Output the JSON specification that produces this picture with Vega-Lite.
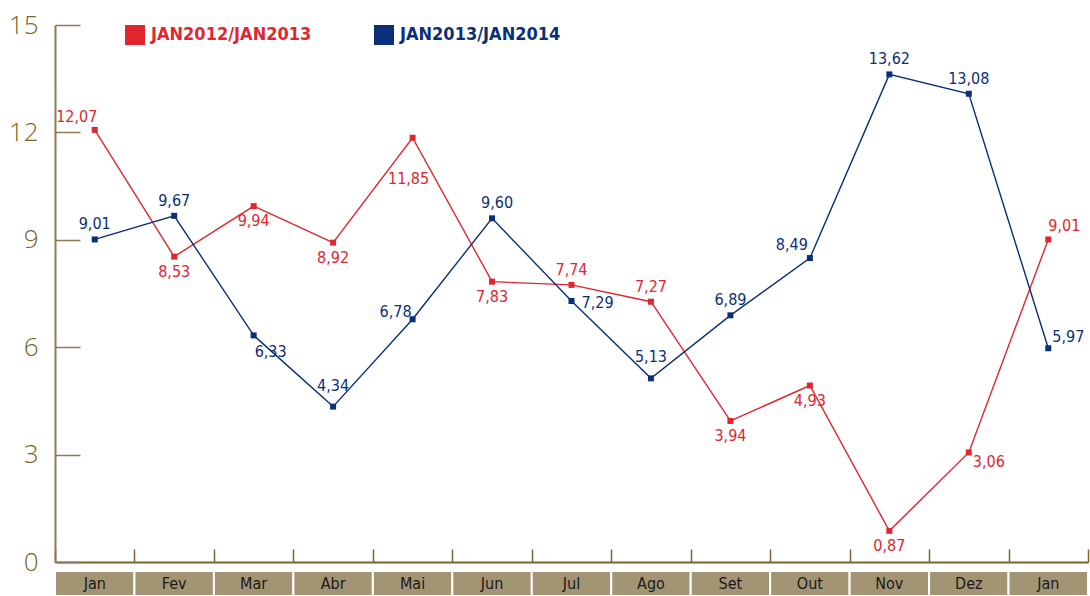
{
  "$schema": "https://vega.github.io/schema/vega-lite/v6.json",
  "padding": {"left": 8, "top": 12, "right": 0, "bottom": 0},
  "bounds": "flush",
  "spacing": 9,
  "config": {
    "view": {"stroke": null},
    "font": "DejaVu Sans Condensed",
    "locale": {"number": {"decimal": ",", "thousands": ".", "grouping": [3], "currency": ["", ""]}}
  },
  "datasets": {
    "d": [
      {"m": "Jan", "s": "JAN2012/JAN2013", "v": 12.07},
      {"m": "Fev", "s": "JAN2012/JAN2013", "v": 8.53},
      {"m": "Mar", "s": "JAN2012/JAN2013", "v": 9.94},
      {"m": "Abr", "s": "JAN2012/JAN2013", "v": 8.92},
      {"m": "Mai", "s": "JAN2012/JAN2013", "v": 11.85},
      {"m": "Jun", "s": "JAN2012/JAN2013", "v": 7.83},
      {"m": "Jul", "s": "JAN2012/JAN2013", "v": 7.74},
      {"m": "Ago", "s": "JAN2012/JAN2013", "v": 7.27},
      {"m": "Set", "s": "JAN2012/JAN2013", "v": 3.94},
      {"m": "Out", "s": "JAN2012/JAN2013", "v": 4.93},
      {"m": "Nov", "s": "JAN2012/JAN2013", "v": 0.87},
      {"m": "Dez", "s": "JAN2012/JAN2013", "v": 3.06},
      {"m": "Jan2", "s": "JAN2012/JAN2013", "v": 9.01},
      {"m": "Jan", "s": "JAN2013/JAN2014", "v": 9.01},
      {"m": "Fev", "s": "JAN2013/JAN2014", "v": 9.67},
      {"m": "Mar", "s": "JAN2013/JAN2014", "v": 6.33},
      {"m": "Abr", "s": "JAN2013/JAN2014", "v": 4.34},
      {"m": "Mai", "s": "JAN2013/JAN2014", "v": 6.78},
      {"m": "Jun", "s": "JAN2013/JAN2014", "v": 9.60},
      {"m": "Jul", "s": "JAN2013/JAN2014", "v": 7.29},
      {"m": "Ago", "s": "JAN2013/JAN2014", "v": 5.13},
      {"m": "Set", "s": "JAN2013/JAN2014", "v": 6.89},
      {"m": "Out", "s": "JAN2013/JAN2014", "v": 8.49},
      {"m": "Nov", "s": "JAN2013/JAN2014", "v": 13.62},
      {"m": "Dez", "s": "JAN2013/JAN2014", "v": 13.08},
      {"m": "Jan2", "s": "JAN2013/JAN2014", "v": 5.97}
    ]
  },
  "vconcat": [
    {
      "width": 1033,
      "height": 537,
      "data": {"name": "d"},
      "encoding": {
        "x": {
          "field": "m", "type": "ordinal", "sort": null, "bandPosition": 0.5,
          "scale": {"type": "band", "paddingInner": 0, "paddingOuter": 0},
          "axis": {
            "title": null, "labels": false, "domainColor": "#7a6530", "domainWidth": 2,
            "ticks": true, "tickBand": "extent", "tickSize": -13, "tickColor": "#7a6530", "tickWidth": 1.5
          }
        },
        "y": {
          "field": "v", "type": "quantitative",
          "scale": {"domain": [0, 15], "nice": false, "zero": true},
          "axis": {
            "title": null, "values": [0, 3, 6, 9, 12, 15], "grid": false,
            "domainColor": "#8b7a55", "domainWidth": 2,
            "tickSize": -25, "tickColor": "#8b7a55", "tickWidth": 1.5,
            "labelFont": "Open Sans", "labelFontWeight": 300, "labelFontSize": 26,
            "labelColor": "#7b6426", "labelPadding": 42
          }
        },
        "color": {
          "field": "s", "type": "nominal",
          "scale": {"domain": ["JAN2012/JAN2013", "JAN2013/JAN2014"], "range": ["#e0262f", "#0a2f78"]},
          "legend": {
            "title": null, "orient": "none", "legendX": 70, "legendY": 0,
            "direction": "horizontal", "symbolType": "square", "symbolSize": 400,
            "symbolStrokeWidth": 0, "symbolOpacity": 1, "labelFontSize": 18, "labelFontWeight": "bold",
            "labelFont": "DejaVu Sans Condensed", "labelOffset": 6, "columnPadding": 62, "labelLimit": 300,
            "encode": {"labels": {"update": {"fill": {"signal": "datum.label == 'JAN2012/JAN2013' ? '#e0262f' : '#0a2f78'"}}}}
          }
        },
        "text": {"field": "v", "type": "quantitative", "format": ".2f"}
      },
      "layer": [
        {"mark": {"type": "line", "strokeWidth": 1.4}},
        {"mark": {"type": "point", "shape": "square", "filled": true, "size": 36, "opacity": 1}},
        {
          "transform": [{"filter": "(datum.s == 'JAN2012/JAN2013' && indexof(['Jul','Ago'], datum.m) >= 0) || (datum.s == 'JAN2013/JAN2014' && indexof(['Jan','Fev','Set','Nov','Dez'], datum.m) >= 0)"}],
          "mark": {"type": "text", "fontSize": 16, "baseline": "middle", "dy": -15}
        },
        {
          "transform": [{"filter": "datum.s == 'JAN2013/JAN2014' && indexof(['Abr','Ago'], datum.m) >= 0"}],
          "mark": {"type": "text", "fontSize": 16, "baseline": "middle", "dy": -21}
        },
        {
          "transform": [{"filter": "datum.s == 'JAN2013/JAN2014' && datum.m == 'Jun'"}],
          "mark": {"type": "text", "fontSize": 16, "baseline": "middle", "dx": 5, "dy": -15}
        },
        {
          "transform": [{"filter": "datum.s == 'JAN2012/JAN2013' && indexof(['Fev','Mar','Abr','Jun','Set','Out','Nov'], datum.m) >= 0"}],
          "mark": {"type": "text", "fontSize": 16, "baseline": "middle", "dy": 15}
        },
        {
          "transform": [{"filter": "datum.s == 'JAN2012/JAN2013' && datum.m == 'Mai'"}],
          "mark": {"type": "text", "fontSize": 16, "baseline": "middle", "dx": -4, "dy": 41}
        },
        {
          "transform": [{"filter": "(datum.s == 'JAN2012/JAN2013' && datum.m == 'Jan') || (datum.s == 'JAN2013/JAN2014' && datum.m == 'Out')"}],
          "mark": {"type": "text", "fontSize": 16, "baseline": "middle", "dx": -18, "dy": -13}
        },
        {
          "transform": [{"filter": "datum.s == 'JAN2013/JAN2014' && datum.m == 'Mai'"}],
          "mark": {"type": "text", "fontSize": 16, "baseline": "middle", "dx": -17, "dy": -7}
        },
        {
          "transform": [{"filter": "datum.s == 'JAN2013/JAN2014' && datum.m == 'Mar'"}],
          "mark": {"type": "text", "fontSize": 16, "baseline": "middle", "dx": 17, "dy": 17}
        },
        {
          "transform": [{"filter": "datum.s == 'JAN2013/JAN2014' && datum.m == 'Jul'"}],
          "mark": {"type": "text", "fontSize": 16, "baseline": "middle", "align": "left", "dx": 10, "dy": 2}
        },
        {
          "transform": [{"filter": "datum.s == 'JAN2013/JAN2014' && datum.m == 'Jan2'"}],
          "mark": {"type": "text", "fontSize": 16, "baseline": "middle", "align": "left", "dx": 4, "dy": -11}
        },
        {
          "transform": [{"filter": "datum.s == 'JAN2012/JAN2013' && datum.m == 'Jan2'"}],
          "mark": {"type": "text", "fontSize": 16, "baseline": "middle", "align": "left", "dx": 0, "dy": -13}
        },
        {
          "transform": [{"filter": "datum.s == 'JAN2012/JAN2013' && datum.m == 'Dez'"}],
          "mark": {"type": "text", "fontSize": 16, "baseline": "middle", "align": "left", "dx": 4, "dy": 10}
        }
      ]
    },
    {
      "width": 1033,
      "height": 25,
      "data": {"name": "d"},
      "transform": [{"filter": "datum.s == 'JAN2012/JAN2013'"}],
      "mark": {"type": "bar", "fill": "#a39474", "stroke": "white", "strokeWidth": 2},
      "encoding": {
        "x": {
          "field": "m", "type": "ordinal", "sort": null,
          "scale": {"type": "band", "paddingInner": 0, "paddingOuter": 0},
          "axis": {
            "title": null, "domain": false, "ticks": false, "zindex": 1,
            "labelExpr": "replace(datum.label, '2', '')", "labelAngle": 0,
            "labelBaseline": "middle", "labelPadding": -13,
            "labelFont": "DejaVu Sans Condensed", "labelFontSize": 16, "labelColor": "#1a1a1a"
          }
        }
      }
    }
  ]
}
